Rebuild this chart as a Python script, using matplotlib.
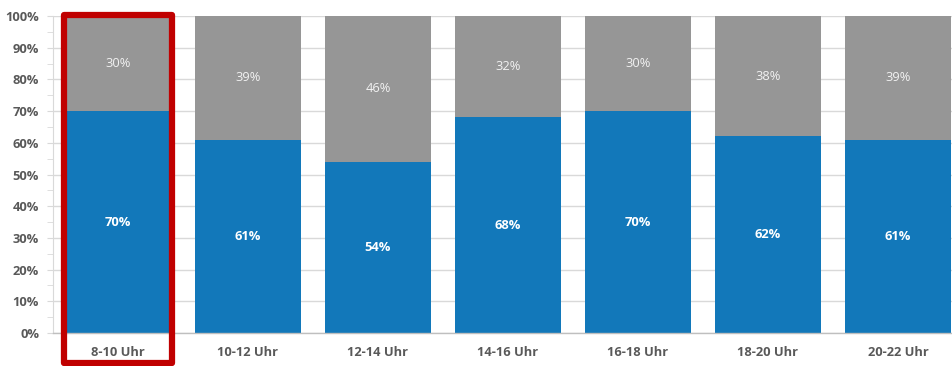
import matplotlib
matplotlib.use("Agg")
import matplotlib.pyplot as plt
from matplotlib.patches import Rectangle
from matplotlib.ticker import MultipleLocator, PercentFormatter

categories = ["8-10 Uhr", "10-12 Uhr", "12-14 Uhr", "14-16 Uhr", "16-18 Uhr", "18-20 Uhr", "20-22 Uhr"]
blue_vals = [70, 61, 54, 68, 70, 62, 61]
gray_vals = [30, 39, 46, 32, 30, 38, 39]
highlight_index = 0

BLUE = "#1278BA"
GRAY = "#969696"
TEXT = "#595959"
FONT = ["Open Sans", "DejaVu Sans"]

plt.rcParams["font.family"] = FONT

fig = plt.figure(figsize=(9.53, 3.66), dpi=100)
ax = fig.add_axes([53 / 953, 33 / 366, 910 / 953, 317 / 366])

x = list(range(len(categories)))
width = 0.81
ax.bar(x, blue_vals, width=width, color=BLUE, zorder=2)
ax.bar(x, gray_vals, width=width, bottom=blue_vals, color=GRAY, zorder=2)

for i, (b, g) in enumerate(zip(blue_vals, gray_vals)):
    ax.text(i, b / 2, f"{b}%", ha="center", va="center", color="white",
            fontsize=9.3, fontweight="bold", zorder=3)
    ax.text(i, b + g / 2, f"{g}%", ha="center", va="center", color="#F2F2F2",
            fontsize=9.3, zorder=3)

ax.set_xlim(-0.5, len(categories) - 0.5)
ax.set_ylim(0, 100)
ax.yaxis.set_major_locator(MultipleLocator(10))
ax.yaxis.set_minor_locator(MultipleLocator(5))
ax.yaxis.set_major_formatter(PercentFormatter(decimals=0))
ax.set_xticks(x)
ax.set_xticklabels(categories)

ax.grid(axis="y", which="major", color="#D9D9D9", linewidth=1, zorder=0)
for s in ["top", "right"]:
    ax.spines[s].set_visible(False)
ax.spines["left"].set_color("#D9D9D9")
ax.spines["bottom"].set_color("#BFBFBF")
ax.spines["bottom"].set_linewidth(1)

ax.tick_params(axis="y", which="both", length=4, color="#D9D9D9", labelsize=9.3,
               labelcolor=TEXT, pad=6)
ax.tick_params(axis="x", length=0, labelsize=9.3, labelcolor=TEXT, pad=9)
for lbl in ax.get_yticklabels() + ax.get_xticklabels():
    lbl.set_fontweight("bold")

# highlight box around the first category
half = 0.418
bottom = -9.4
top = 100.4
rect = Rectangle((highlight_index - half, bottom), 2 * half, top - bottom,
                 fill=False, edgecolor="#C00000", linewidth=4.5,
                 clip_on=False, zorder=5, joinstyle="round")
ax.add_patch(rect)

fig.savefig("out.png", dpi=100)
